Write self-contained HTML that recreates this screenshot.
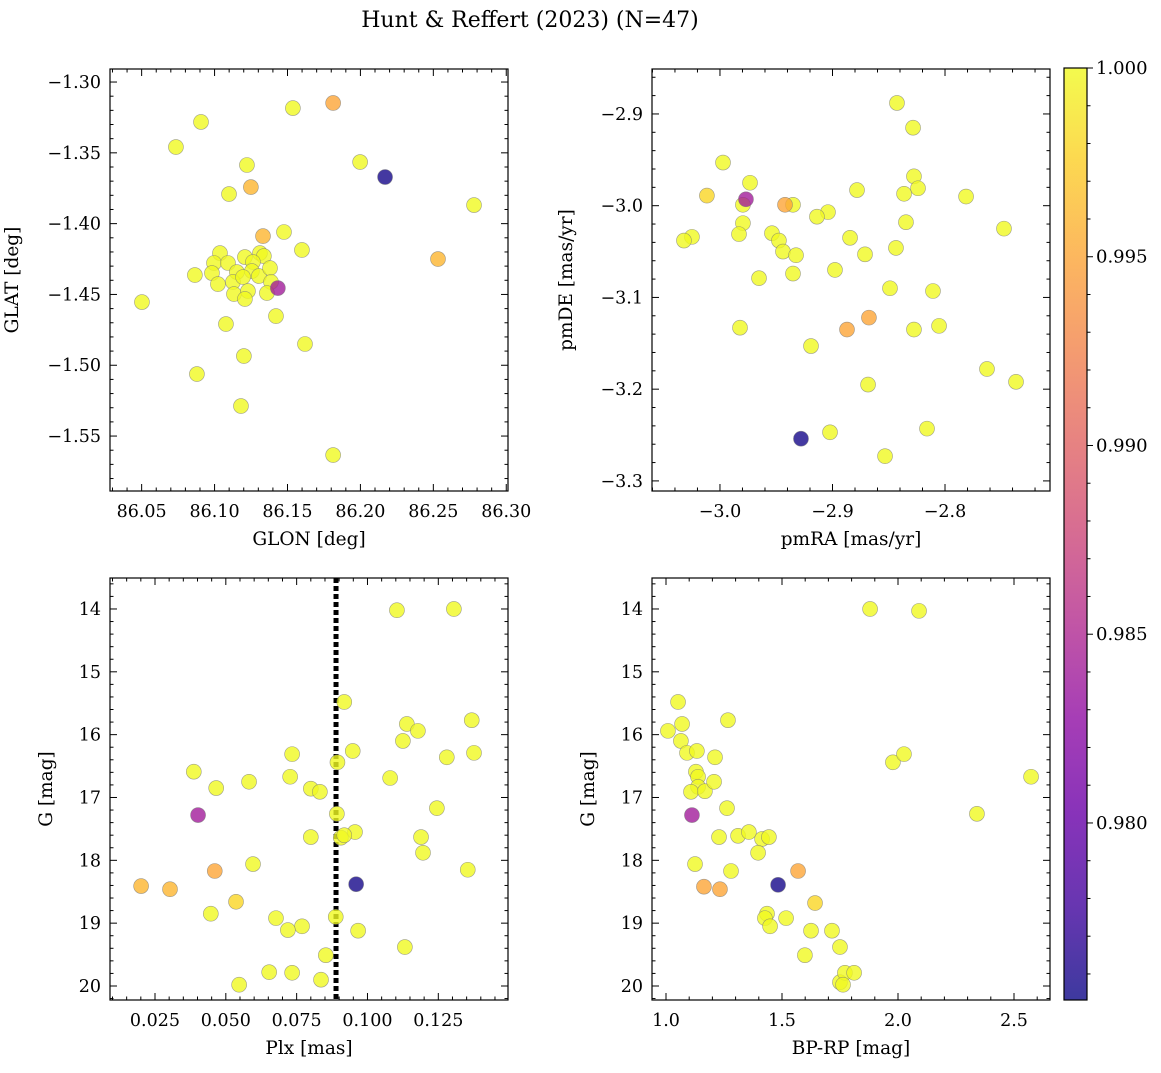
<!DOCTYPE html>
<html><head><meta charset="utf-8"><style>
body{margin:0;background:#fff;}
svg text{font-family:"DejaVu Serif","Liberation Serif",serif;fill:#000;}
</style></head><body>
<svg id="fig" width="1161" height="1068" viewBox="0 0 1161 1068" xmlns="http://www.w3.org/2000/svg">
<text x="530" y="27" font-size="22" text-anchor="middle">Hunt &amp; Reffert (2023) (N=47)</text>
</svg>
<script>
// ---- data ----
const glon=[86.0907,86.0735,86.1537,86.1813,86.1998,86.2169,86.2779,86.1222,86.1249,86.1099,86.0502,86.1620,86.1201,86.0879,86.1181,86.1813,86.2532,86.1332,86.1476,86.1599,86.0865,86.1037,86.0996,86.0982,86.1092,86.1023,86.1153,86.1126,86.1208,86.1311,86.1338,86.1263,86.1256,86.1195,86.1304,86.1380,86.1387,86.1359,86.1434,86.1133,86.1229,86.1208,86.1421,86.1078];
const glat=[-1.3282,-1.3459,-1.3184,-1.3148,-1.3565,-1.3671,-1.3869,-1.3586,-1.3742,-1.3791,-1.4554,-1.4850,-1.4935,-1.5062,-1.5288,-1.5634,-1.4250,-1.4088,-1.4059,-1.4186,-1.4363,-1.4208,-1.4278,-1.4349,-1.4278,-1.4427,-1.4342,-1.4412,-1.4236,-1.4208,-1.4229,-1.4271,-1.4335,-1.4377,-1.4370,-1.4314,-1.4412,-1.4490,-1.4455,-1.4497,-1.4476,-1.4532,-1.4653,-1.4709];
const probPos=[1,1,1,0.995,1,0.9757,1,1,0.996,1,1,1,1,1,1,1,0.996,0.996,1,1,1,1,1,1,1,1,1,1,1,1,1,1,1,1,1,1,1,1,0.984,1,1,1,1,1];

const pmra=[-2.8427,-2.8284,-2.9973,-2.8276,-2.9733,-3.0116,-2.9769,-2.8782,-2.8240,-2.8364,-2.7813,-2.9422,-2.9351,-2.9796,-2.9796,-2.9040,-2.9138,-2.8347,-2.9831,-2.9538,-2.9476,-2.8844,-3.0249,-3.0320,-2.7476,-2.9440,-2.9324,-2.8436,-2.8711,-2.9653,-2.9351,-2.8978,-2.8489,-2.8107,-2.9822,-2.8276,-2.8053,-2.8676,-2.8871,-2.9191,-2.7627,-2.7369,-2.8684,-2.8160,-2.9022,-2.9280,-2.8533];
const pmde=[-2.888,-2.915,-2.953,-2.968,-2.975,-2.989,-2.993,-2.983,-2.981,-2.987,-2.990,-2.999,-2.999,-2.999,-3.019,-3.007,-3.012,-3.018,-3.031,-3.030,-3.038,-3.035,-3.034,-3.038,-3.025,-3.050,-3.054,-3.046,-3.053,-3.079,-3.074,-3.070,-3.090,-3.093,-3.133,-3.135,-3.131,-3.122,-3.135,-3.153,-3.178,-3.192,-3.195,-3.243,-3.247,-3.254,-3.273];
const probPm=[1,1,1,1,1,0.998,0.984,1,1,1,1,0.995,1,1,1,1,1,1,1,1,1,1,1,1,1,1,1,1,1,1,1,1,1,1,1,1,1,0.995,0.995,1,1,1,1,1,1,0.9757,1];

const plx=[0.1104,0.1305,0.0918,0.1368,0.1139,0.1125,0.1178,0.0734,0.0948,0.0894,0.1280,0.1376,0.0387,0.0582,0.0466,0.0727,0.0800,0.0832,0.1080,0.0402,0.0892,0.1245,0.0800,0.0906,0.0956,0.0918,0.1189,0.1196,0.0596,0.1354,0.0461,0.0960,0.0201,0.0303,0.0536,0.0447,0.0888,0.0677,0.0769,0.0719,0.0967,0.1132,0.0853,0.0653,0.0734,0.0836,0.0547];
const gPlx=[14.02,14.00,15.48,15.77,15.83,16.10,15.94,16.31,16.26,16.44,16.36,16.29,16.59,16.75,16.85,16.67,16.86,16.91,16.69,17.28,17.26,17.17,17.63,17.64,17.55,17.60,17.63,17.88,18.06,18.15,18.17,18.38,18.41,18.46,18.66,18.85,18.90,18.92,19.05,19.11,19.12,19.38,19.51,19.78,19.79,19.90,19.98];
const probPlx=[1,1,1,1,1,1,1,1,1,1,1,1,1,1,1,1,1,1,1,0.984,1,1,1,1,1,1,1,1,1,1,0.995,0.9757,0.996,0.996,0.998,1,1,1,1,1,1,1,1,1,1,1,1];
const plxCut=[0.0889];

const bprp=[1.8797,2.0907,1.0520,1.0084,1.0693,1.0642,1.2671,1.0906,1.1332,1.2113,1.1291,1.1382,1.1382,1.1078,1.1677,1.2072,1.1119,1.2630,1.2285,1.3107,1.3573,1.4142,1.4436,1.3969,1.1251,1.2802,1.1636,1.2326,1.4831,1.5693,1.6424,1.4354,1.4263,1.4486,1.5176,1.6251,1.7154,1.5988,1.7499,1.7499,1.7712,1.8108,1.7631,1.9781,2.0258,2.5736,2.3403];
const gCmd=[14.00,14.03,15.48,15.94,15.83,16.10,15.77,16.29,16.26,16.36,16.59,16.67,16.83,16.91,16.90,16.75,17.28,17.17,17.63,17.61,17.55,17.66,17.63,17.88,18.06,18.17,18.42,18.46,18.39,18.17,18.68,18.85,18.92,19.05,18.92,19.12,19.12,19.51,19.38,19.94,19.79,19.79,19.98,16.44,16.31,16.67,17.26];
const probCmd=[1,1,1,1,1,1,1,1,1,1,1,1,1,1,1,1,0.984,1,1,1,1,1,1,1,1,1,0.995,0.995,0.9757,0.995,0.998,1,1,1,1,1,1,1,1,1,1,1,1,1,1,1,1];

const cbTicks=[0.980,0.985,0.990,0.995,1.000];
const cRange=[0.97531,1.0];

// ---- helpers ----
const NS="http://www.w3.org/2000/svg";
const svg=document.getElementById('fig');
function mk(tag,attrs,parent){const e=document.createElementNS(NS,tag);for(const k in attrs)e.setAttribute(k,attrs[k]);(parent||svg).appendChild(e);return e;}
const stops=["#0d0887","#41049d","#6a00a8","#8f0da4","#b12a90","#cc4778","#e16462","#f2844b","#fca636","#fcce25","#f0f921"];
function hex(h){return[parseInt(h.substr(1,2),16),parseInt(h.substr(3,2),16),parseInt(h.substr(5,2),16)];}
function plasma(t){t=Math.max(0,Math.min(1,t));const s=t*10,i=Math.min(9,Math.floor(s)),f=s-i;const a=hex(stops[i]),b=hex(stops[i+1]);return`rgb(${a.map((v,k)=>Math.round(v+(b[k]-v)*f)).join(',')})`;}
function cval(p){return plasma((p-cRange[0])/(cRange[1]-cRange[0]));}
function fmt(v,d){return (v<0?"\u2212":"")+Math.abs(v).toFixed(d);}

function panel(o){
  const g=mk('g',{});
  
  
  const X=v=>o.x0+(v-o.xmin)/(o.xmax-o.xmin)*(o.x1-o.x0);
  const Y=o.yinv?(v=>o.y0+(v-o.ymin)/(o.ymax-o.ymin)*(o.y1-o.y0)):(v=>o.y1-(v-o.ymin)/(o.ymax-o.ymin)*(o.y1-o.y0));
  const tg=mk('g',{stroke:'#000','stroke-width':1},g);
  
  
  for(let k=Math.ceil(o.xmin/o.xminor-1e-6);k*o.xminor<=o.xmax+1e-9;k++){const v=k*o.xminor,px=X(v);const maj=Math.abs(v/o.xmajor-Math.round(v/o.xmajor))<1e-6;const L=maj?7:3.5;
    mk('line',{x1:px,x2:px,y1:o.y1,y2:o.y1-L},tg);mk('line',{x1:px,x2:px,y1:o.y0,y2:o.y0+L},tg);}
  for(let k=Math.ceil(o.ymin/o.yminor-1e-6);k*o.yminor<=o.ymax+1e-9;k++){const v=k*o.yminor,py=Y(v);const maj=Math.abs(v/o.ymajor-Math.round(v/o.ymajor))<1e-6;const L=maj?7:3.5;
    mk('line',{x1:o.x0,x2:o.x0+L,y1:py,y2:py},tg);mk('line',{x1:o.x1,x2:o.x1-L,y1:py,y2:py},tg);}
  o.xticks.forEach(v=>{const t=mk('text',{x:X(v),y:o.y1+26,'font-size':17.5,'text-anchor':'middle'},g);t.textContent=fmt(v,o.xd);});
  o.yticks.forEach(v=>{const t=mk('text',{x:o.x0-9,y:Y(v)+6,'font-size':17.5,'text-anchor':'end'},g);t.textContent=fmt(v,o.yd);});
  const xl=mk('text',{x:(o.x0+o.x1)/2,y:o.y1+54,'font-size':18.5,'text-anchor':'middle'},g);xl.textContent=o.xlabel;
  
  const yl=mk('text',{x:0,y:0,'font-size':18.5,'text-anchor':'middle',transform:`translate(${o.x0-o.ylOff},${(o.y0+o.y1)/2}) rotate(-90)`},g);yl.textContent=o.ylabel;
  
  if(o.vline){o.vline.forEach(v=>{const l=mk('line',{x1:X(v),x2:X(v),y1:o.y0,y2:o.y1,stroke:'#000','stroke-width':5,'stroke-dasharray':'5 3'},g);});}
  const pg=mk('g',{},g);
  
  
  const idx=o.xs.map((_,i)=>i).sort((a,b)=>o.cs[b]-o.cs[a]);
  idx.forEach(i=>{const c=mk('circle',{cx:X(o.xs[i]),cy:Y(o.ys[i]),r:7.5,fill:cval(o.cs[i]),'fill-opacity':0.8,stroke:'#777','stroke-opacity':0.7,'stroke-width':0.6},pg);
    });
  const fr=mk('rect',{x:o.x0,y:o.y0,width:o.x1-o.x0,height:o.y1-o.y0,fill:'none',stroke:'#000','stroke-width':1.2},g);
  
}

panel({name:'glon-glat-panel',x0:110,x1:508,y0:69,y1:491,xmin:86.0283,xmax:86.3012,ymin:-1.5888,ymax:-1.2908,
  xmajor:0.05,xminor:0.01,ymajor:0.05,yminor:0.01,xticks:[86.05,86.10,86.15,86.20,86.25,86.30],yticks:[-1.30,-1.35,-1.40,-1.45,-1.50,-1.55],xd:2,yd:2,
  xlabel:'GLON [deg]',ylabel:'GLAT [deg]',ylOff:92,xs:glon,ys:glat,cs:probPos});
panel({name:'proper-motion-panel',x0:652,x1:1050,y0:69,y1:491,xmin:-3.0604,xmax:-2.7067,ymin:-3.311,ymax:-2.851,
  xmajor:0.1,xminor:0.02,ymajor:0.1,yminor:0.02,xticks:[-3.0,-2.9,-2.8],yticks:[-2.9,-3.0,-3.1,-3.2,-3.3],xd:1,yd:1,
  xlabel:'pmRA [mas/yr]',ylabel:'pmDE [mas/yr]',ylOff:80,xs:pmra,ys:pmde,cs:probPm});
panel({name:'parallax-mag-panel',x0:110,x1:508,y0:578,y1:1000,xmin:0.00912,xmax:0.1496,ymin:13.507,ymax:20.223,yinv:true,
  xmajor:0.025,xminor:0.005,ymajor:1,yminor:0.2,xticks:[0.025,0.050,0.075,0.100,0.125],yticks:[14,15,16,17,18,19,20],xd:3,yd:0,
  xlabel:'Plx [mas]',ylabel:'G [mag]',ylOff:58,xs:plx,ys:gPlx,cs:probPlx,vline:plxCut});
panel({name:'cmd-panel',x0:652,x1:1050,y0:578,y1:1000,xmin:0.9397,xmax:2.6552,ymin:13.507,ymax:20.223,yinv:true,
  xmajor:0.5,xminor:0.1,ymajor:1,yminor:0.2,xticks:[1.0,1.5,2.0,2.5],yticks:[14,15,16,17,18,19,20],xd:1,yd:0,
  xlabel:'BP-RP [mag]',ylabel:'G [mag]',ylOff:58,xs:bprp,ys:gCmd,cs:probCmd});

// colorbar
const cb=mk('g',{});


const defs=mk('defs',{},cb);
const lg=mk('linearGradient',{id:'pl',x1:0,y1:1,x2:0,y2:0},defs);
for(let i=0;i<=20;i++){mk('stop',{offset:i/20,'stop-color':plasma(i/20),'stop-opacity':0.8},lg);}
const cbx0=1064,cbx1=1087,cby0=68,cby1=1000;
mk('rect',{x:cbx0,y:cby0,width:cbx1-cbx0,height:cby1-cby0,fill:'url(#pl)'},cb);
const CY=v=>cby1-(v-cRange[0])/(cRange[1]-cRange[0])*(cby1-cby0);
for(let k=Math.ceil(cRange[0]/0.001-1e-6);k*0.001<=cRange[1]+1e-9;k++){const v=k*0.001;const maj=Math.abs(v/0.005-Math.round(v/0.005))<1e-6;
  mk('line',{x1:cbx1,x2:cbx1+(maj?6:3.5),y1:CY(v),y2:CY(v),stroke:'#000'},cb);}
cbTicks.forEach(v=>{const t=mk('text',{x:cbx1+9,y:CY(v)+6,'font-size':18,},cb);t.textContent=v.toFixed(3);
  });
mk('rect',{x:cbx0,y:cby0,width:cbx1-cbx0,height:cby1-cby0,fill:'none',stroke:'#000','stroke-width':1.2},cb);
</script>
</body></html>
